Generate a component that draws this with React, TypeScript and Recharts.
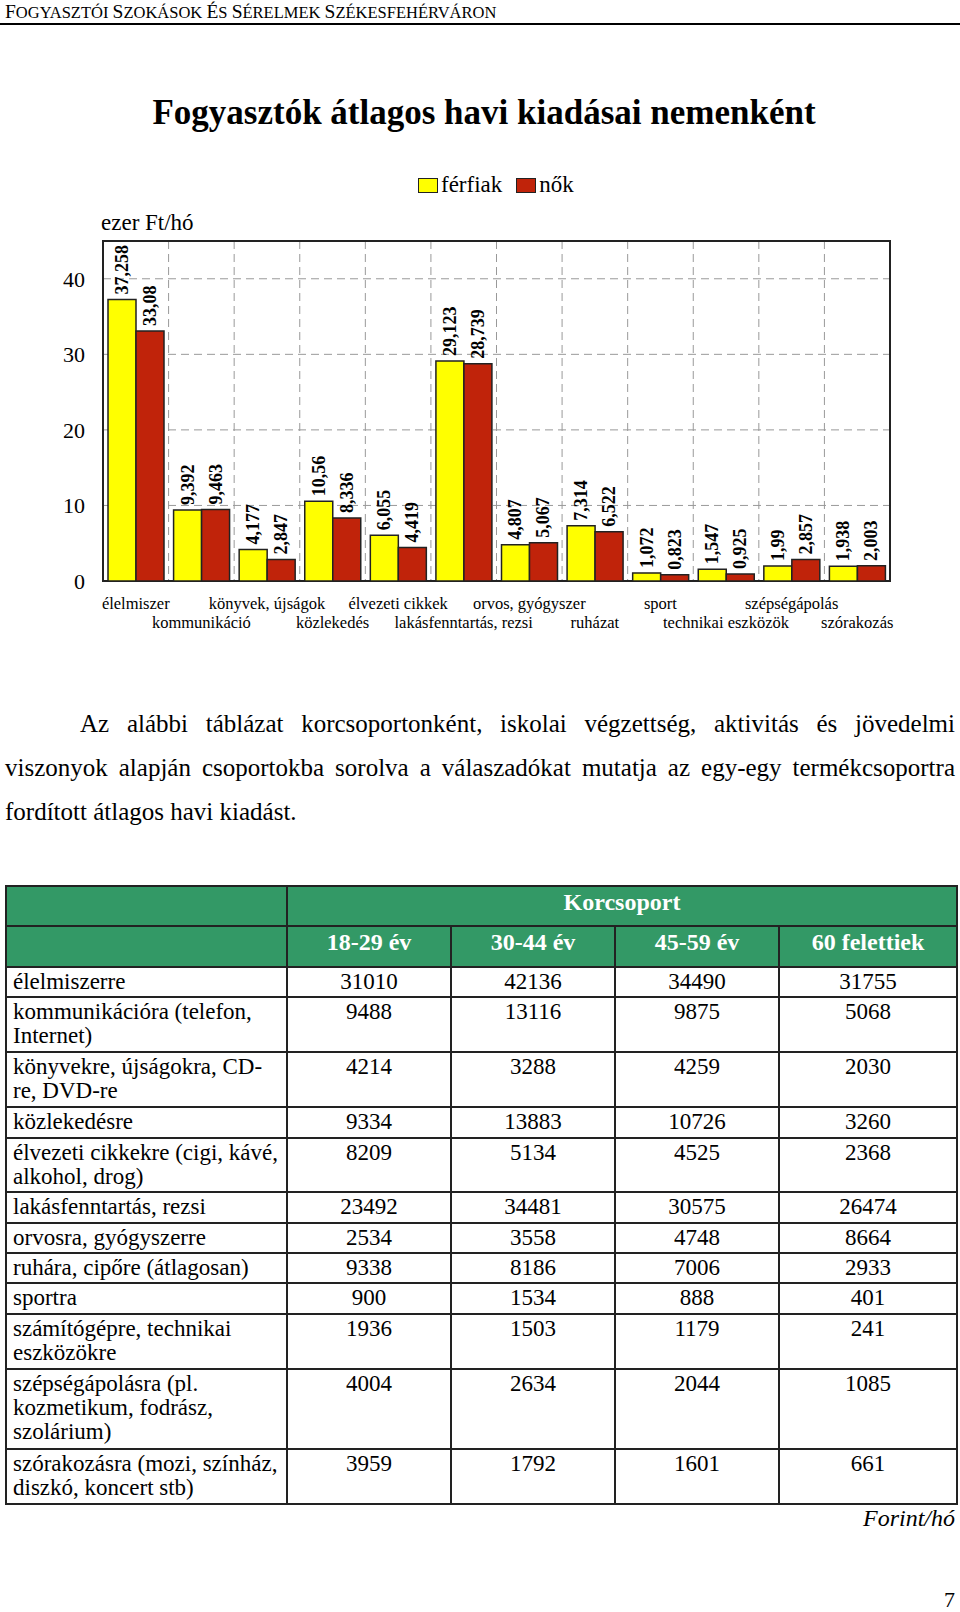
import React from 'react';
import {
  BarChart,
  Bar,
  XAxis,
  YAxis,
  CartesianGrid,
  Legend,
  LabelList,
  ReferenceArea,
} from 'recharts';

const categories = [
  'élelmiszer',
  'kommunikáció',
  'könyvek, újságok',
  'közlekedés',
  'élvezeti cikkek',
  'lakásfenntartás, rezsi',
  'orvos, gyógyszer',
  'ruházat',
  'sport',
  'technikai eszközök',
  'szépségápolás',
  'szórakozás',
];
const ferfiak = [37.258, 9.392, 4.177, 10.56, 6.055, 29.123, 4.807, 7.314, 1.072, 1.547, 1.99, 1.938];
const nok = [33.08, 9.463, 2.847, 8.336, 4.419, 28.739, 5.067, 6.522, 0.823, 0.925, 2.857, 2.003];
const yTicks = [0, 10, 20, 30, 40];

const headerWords = ['Fogyasztói', 'szokások', 'és', 'sérelmek', 'Székesfehérváron'];

const paragraphLines = [
  'Az alábbi táblázat korcsoportonként, iskolai végzettség, aktivitás és jövedelmi',
  'viszonyok alapján csoportokba sorolva a válaszadókat mutatja az egy-egy termékcsoportra',
  'fordított átlagos havi kiadást.',
];

const ageGroups = ['18-29 év', '30-44 év', '45-59 év', '60 felettiek'];
const tableRows = [
  'élelmiszerre',
  'kommunikációra (telefon,\nInternet)',
  'könyvekre, újságokra, CD-\nre, DVD-re',
  'közlekedésre',
  'élvezeti cikkekre (cigi, kávé,\nalkohol, drog)',
  'lakásfenntartás, rezsi',
  'orvosra, gyógyszerre',
  'ruhára, cipőre (átlagosan)',
  'sportra',
  'számítógépre, technikai\neszközökre',
  'szépségápolásra (pl.\nkozmetikum, fodrász,\nszolárium)',
  'szórakozásra (mozi, színház,\ndiszkó, koncert stb)',
];
const age18_29 = [31010, 9488, 4214, 9334, 8209, 23492, 2534, 9338, 900, 1936, 4004, 3959];
const age30_44 = [42136, 13116, 3288, 13883, 5134, 34481, 3558, 8186, 1534, 1503, 2634, 1792];
const age45_59 = [34490, 9875, 4259, 10726, 4525, 30575, 4748, 7006, 888, 1179, 2044, 1601];
const age60plus = [31755, 5068, 2030, 3260, 2368, 26474, 8664, 2933, 401, 241, 1085, 661];

const rowHeights = [30, 55, 55, 31, 54, 31, 30, 30, 31, 55, 80, 55];

const SERIF = '"Liberation Serif", "Times New Roman", serif';
const YELLOW = '#FFFF00';
const RED = '#C0230A';
const GREEN = '#339966';

const chartData = categories.map((c, i) => ({
  name: c,
  ferfiak: ferfiak[i],
  nok: nok[i],
}));

const fmt = (v: number) => String(v).replace('.', ',');

const XTick = (props: any) => {
  const { x, y, payload, index } = props;
  const second = index % 2 === 1;
  return (
    <text
      x={x}
      y={y}
      dy={second ? 47 : 28}
      textAnchor="middle"
      fontFamily={SERIF}
      fontSize={16.5}
      fill="#000"
    >
      {payload.value}
    </text>
  );
};

const BarLabel = (props: any) => {
  const { x, y, width, value } = props;
  const cx = x + width / 2;
  const ty = y - 5;
  return (
    <text
      x={cx}
      y={ty}
      transform={`rotate(-90 ${cx} ${ty})`}
      textAnchor="start"
      dominantBaseline="central"
      fontFamily={SERIF}
      fontWeight="bold"
      fontSize={18}
      fill="#000"
    >
      {fmt(value)}
    </text>
  );
};

const LegendContent = (props: any) => {
  const { payload } = props;
  return (
    <div style={{ display: 'flex', alignItems: 'center', fontFamily: SERIF, fontSize: 23 }}>
      {(payload || []).map((p: any, i: number) => (
        <div key={i} style={{ display: 'flex', alignItems: 'center', marginRight: 14 }}>
          <span
            style={{
              display: 'inline-block',
              width: 18,
              height: 13,
              background: p.color,
              border: '1.5px solid #222',
              marginRight: 3,
            }}
          />
          <span>{p.value}</span>
        </div>
      ))}
    </div>
  );
};

export default function App() {
  const cellBorder = '2px solid #222';
  const tdBase: React.CSSProperties = {
    border: cellBorder,
    padding: '2px 6px 0 6px',
    verticalAlign: 'top',
    lineHeight: '24px',
    fontSize: 23,
  };
  const numCell: React.CSSProperties = { ...tdBase, textAlign: 'center' };
  const headCell: React.CSSProperties = {
    border: cellBorder,
    background: GREEN,
    color: '#fff',
    fontWeight: 'bold',
    textAlign: 'center',
    verticalAlign: 'middle',
    fontSize: 24,
    lineHeight: '28px',
    padding: '0 0 9px 0',
  };

  return (
    <div
      style={{
        position: 'absolute',
        left: 0,
        top: 0,
        width: 960,
        height: 1612,
        overflow: 'hidden',
        background: '#fff',
        fontFamily: SERIF,
        color: '#000',
      }}
    >
      {/* running header */}
      <div
        style={{
          position: 'absolute',
          left: 5,
          top: 1,
          lineHeight: '22px',
          whiteSpace: 'nowrap',
        }}
      >
        {headerWords.map((w, i) => (
          <span key={i}>
            <span style={{ fontSize: 19.5 }}>{w.charAt(0).toUpperCase()}</span>
            <span style={{ fontSize: 16.5 }}>{w.slice(1).toUpperCase()}</span>
            {i < headerWords.length - 1 ? <span style={{ fontSize: 16.5 }}> </span> : null}
          </span>
        ))}
      </div>
      <div style={{ position: 'absolute', left: 0, top: 23, width: 960, height: 2, background: '#000' }} />

      {/* title */}
      <div
        style={{
          position: 'absolute',
          left: 0,
          top: 91,
          width: 968,
          textAlign: 'center',
          fontSize: 35,
          fontWeight: 'bold',
          lineHeight: '44px',
        }}
      >
        Fogyasztók átlagos havi kiadásai nemenként
      </div>

      {/* unit */}
      <div style={{ position: 'absolute', left: 101, top: 209, fontSize: 23, lineHeight: '28px' }}>
        ezer Ft/hó
      </div>

      {/* chart */}
      <div style={{ position: 'absolute', left: 0, top: 0 }}>
        <BarChart
          width={960}
          height={640}
          data={chartData}
          margin={{ top: 241, right: 70, bottom: 19, left: 63 }}
          barSize={28}
          barGap={0}
        >
          <CartesianGrid
            stroke="#999"
            strokeDasharray="8 5"
            verticalCoordinatesGenerator={(p: any) => {
              const off = p.offset;
              const n = categories.length;
              return Array.from({ length: n - 1 }, (_, i) => off.left + ((i + 1) * off.width) / n);
            }}
          />
          <XAxis
            dataKey="name"
            interval={0}
            tickLine={false}
            axisLine={false}
            height={40}
            tickSize={0}
            tickMargin={0}
            tick={<XTick />}
          />
          <YAxis
            domain={[0, 45]}
            ticks={yTicks}
            width={40}
            tickLine={false}
            axisLine={false}
            tickSize={8}
            tickMargin={10}
            tick={{ fontFamily: SERIF, fontSize: 22, fill: '#000' }}
          />
          <Legend
            layout="horizontal"
            verticalAlign="middle"
            align="center"
            wrapperStyle={{ top: 172, left: 418, width: 'auto' }}
            content={<LegendContent />}
          />
          <Bar dataKey="ferfiak" name="férfiak" fill={YELLOW} stroke="#222" strokeWidth={1.5} isAnimationActive={false}>
            <LabelList dataKey="ferfiak" content={<BarLabel />} />
          </Bar>
          <Bar dataKey="nok" name="nők" fill={RED} stroke="#222" strokeWidth={1.5} isAnimationActive={false}>
            <LabelList dataKey="nok" content={<BarLabel />} />
          </Bar>
          <ReferenceArea y1={0} y2={45} fill="none" stroke="#222" strokeWidth={2} />
        </BarChart>
      </div>

      {/* paragraph */}
      <div
        style={{
          position: 'absolute',
          left: 5,
          top: 702,
          width: 950,
          fontSize: 25,
          lineHeight: '44px',
        }}
      >
        {paragraphLines.map((line, i) => (
          <div
            key={i}
            style={{
              textAlign: 'justify',
              textAlignLast: i < paragraphLines.length - 1 ? 'justify' : 'left',
              textIndent: i === 0 ? 75 : 0,
              whiteSpace: 'nowrap',
            }}
          >
            {line}
          </div>
        ))}
      </div>

      {/* table */}
      <table
        style={{
          position: 'absolute',
          left: 5,
          top: 885,
          width: 951,
          borderCollapse: 'collapse',
          tableLayout: 'fixed',
          fontFamily: SERIF,
        }}
      >
        <colgroup>
          <col style={{ width: 281 }} />
          <col style={{ width: 164 }} />
          <col style={{ width: 164 }} />
          <col style={{ width: 164 }} />
          <col style={{ width: 178 }} />
        </colgroup>
        <tbody>
          <tr style={{ height: 40 }}>
            <td style={headCell} />
            <td style={headCell} colSpan={4}>
              Korcsoport
            </td>
          </tr>
          <tr style={{ height: 41 }}>
            <td style={headCell} />
            {ageGroups.map((g) => (
              <td key={g} style={headCell}>
                {g}
              </td>
            ))}
          </tr>
          {tableRows.map((label, i) => (
            <tr key={i} style={{ height: rowHeights[i] }}>
              <td style={{ ...tdBase, whiteSpace: 'pre', overflow: 'visible' }}>{label}</td>
              <td style={numCell}>{age18_29[i]}</td>
              <td style={numCell}>{age30_44[i]}</td>
              <td style={numCell}>{age45_59[i]}</td>
              <td style={numCell}>{age60plus[i]}</td>
            </tr>
          ))}
        </tbody>
      </table>

      <div style={{ position: 'absolute', right: 5, top: 1504, fontSize: 24, fontStyle: 'italic', lineHeight: '28px' }}>
        Forint/hó
      </div>
      <div style={{ position: 'absolute', right: 5, top: 1588, fontSize: 22, lineHeight: '24px' }}>7</div>
    </div>
  );
}
